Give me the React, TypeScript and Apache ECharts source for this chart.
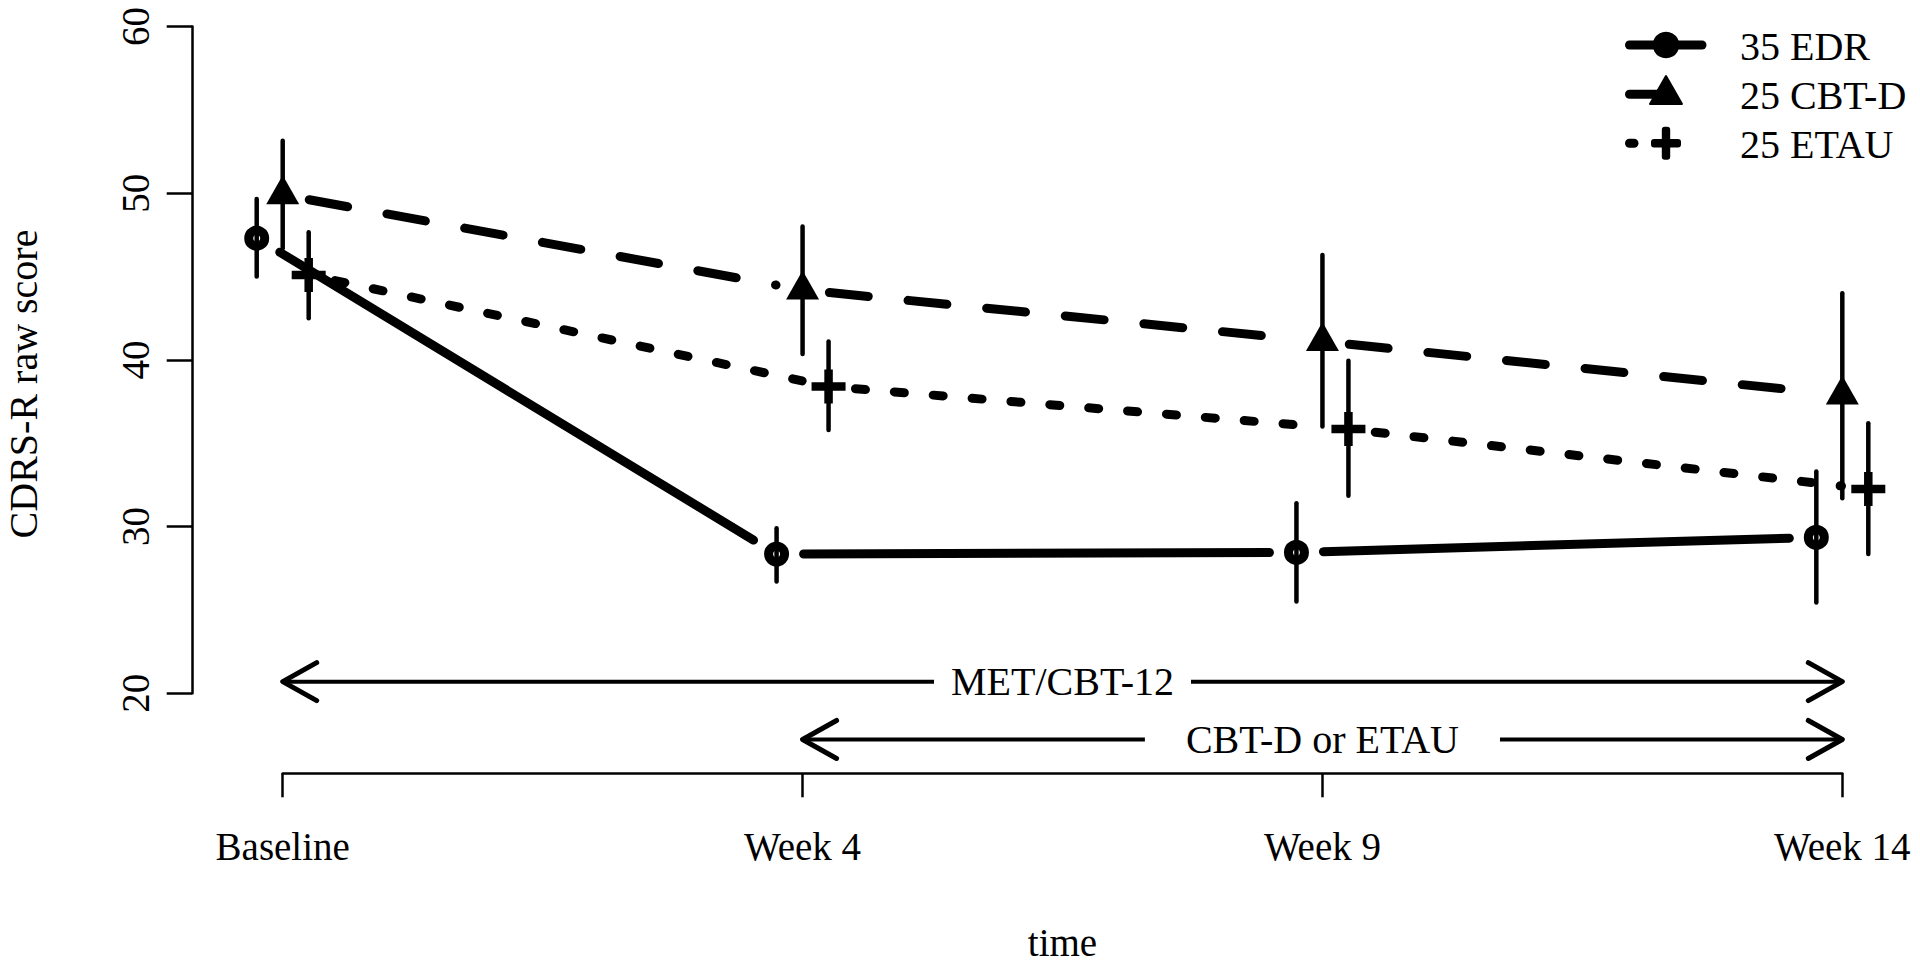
import React, { useEffect, useRef } from 'react';
import * as echarts from 'echarts';

// ---------- data ----------
const categories = ['Baseline', 'Week 4', 'Week 9', 'Week 14'];
const groupNames = ['35 EDR', '25 CBT-D', '25 ETAU'];

const edrMean = [47.3, 28.35, 28.45, 29.35];
const edrLow = [45.0, 26.7, 25.5, 25.45];
const edrHigh = [49.65, 29.9, 31.4, 33.3];

const cbtMean = [49.9, 44.2, 41.1, 37.9];
const cbtLow = [46.7, 40.35, 36.0, 31.7];
const cbtHigh = [53.15, 48.0, 46.3, 44.0];

const etauMean = [45.1, 38.4, 35.85, 32.25];
const etauLow = [42.5, 35.8, 31.85, 28.35];
const etauHigh = [47.65, 41.1, 39.95, 36.2];

const yTicks = [20, 30, 40, 50, 60];

const phaseLabels = ['MET/CBT-12', 'CBT-D or ETAU'];
const phaseStart = [0, 1];
const phaseEnd = [3, 3];
const phaseLevel = [20.7, 17.23];

const yTitle = 'CDRS-R raw score';
const xTitle = 'time';

// ---------- layout / style ----------
const FONT = '"Liberation Serif", "Times New Roman", Times, serif';
const W = 1920;
const H = 968;
const X0 = 282.7; // pixel of first category
const XSTEP = 519.87; // pixels per category
const LEFT = 192.3; // y axis line
const TOP = 26.5; // y = 60
const BOTTOM = 693.3; // y = 20
const AXIS_Y = 773.3; // x axis line
const xMin = (LEFT - X0) / XSTEP;
const xMax = (W - X0) / XSTEP;
const GAP = 27;
const LW = 9;
const phasePad = [17, 41];

const styles = [
  {
    dodge: -0.05,
    dash: null as any,
    symbol: 'circle',
    symbolSize: 16,
    symbolOffset: [0, 0],
    itemStyle: { color: 'rgba(0,0,0,0)', borderColor: '#000', borderWidth: 9, opacity: 1 },
  },
  {
    dodge: 0,
    dash: [39, 40],
    symbol: 'triangle',
    symbolSize: [33, 29],
    symbolOffset: [0, -5],
    itemStyle: { color: '#000', opacity: 1 },
  },
  {
    dodge: 0.05,
    dash: [10, 29],
    symbol: 'path://M3.75,0H6.25V3.75H10V6.25H6.25V10H3.75V6.25H0V3.75H3.75Z',
    symbolSize: 34,
    symbolOffset: [0, 0],
    itemStyle: { color: '#000', opacity: 1 },
  },
];

const groups = [
  { mean: edrMean, low: edrLow, high: edrHigh },
  { mean: cbtMean, low: cbtLow, high: cbtHigh },
  { mean: etauMean, low: etauLow, high: etauHigh },
];

function buildOption() {
  const series: any[] = [];

  groups.forEach((g, gi) => {
    const st = styles[gi];
    // connecting lines (type "b": gaps around points)
    series.push({
      type: 'custom',
      name: groupNames[gi] + ' line',
      xAxisIndex: 0,
      yAxisIndex: 0,
      clip: false,
      z: 2,
      silent: true,
      data: g.mean.slice(0, -1).map((m, i) => [i + st.dodge, m, i + 1 + st.dodge, g.mean[i + 1]]),
      renderItem: (params: any, api: any) => {
        const p0 = api.coord([api.value(0), api.value(1)]);
        const p1 = api.coord([api.value(2), api.value(3)]);
        const dx = p1[0] - p0[0];
        const dy = p1[1] - p0[1];
        const len = Math.hypot(dx, dy);
        const ux = dx / len;
        const uy = dy / len;
        return {
          type: 'line',
          shape: {
            x1: p0[0] + ux * GAP,
            y1: p0[1] + uy * GAP,
            x2: p1[0] - ux * GAP,
            y2: p1[1] - uy * GAP,
          },
          style: { stroke: '#000', lineWidth: LW, lineDash: st.dash, lineCap: 'round', fill: null },
        };
      },
    });
    // markers
    series.push({
      type: 'scatter',
      name: groupNames[gi],
      xAxisIndex: 0,
      yAxisIndex: 0,
      clip: false,
      z: 3,
      silent: true,
      symbol: st.symbol,
      symbolSize: st.symbolSize,
      symbolOffset: st.symbolOffset,
      itemStyle: st.itemStyle,
      emphasis: { disabled: true },
      data: g.mean.map((m, i) => [i + st.dodge, m]),
    });
    // error bars
    series.push({
      type: 'custom',
      name: groupNames[gi] + ' ci',
      xAxisIndex: 0,
      yAxisIndex: 0,
      clip: false,
      z: 4,
      silent: true,
      data: g.mean.map((m, i) => [i + st.dodge, g.low[i], g.high[i]]),
      renderItem: (params: any, api: any) => {
        const lo = api.coord([api.value(0), api.value(1)]);
        const hi = api.coord([api.value(0), api.value(2)]);
        return {
          type: 'line',
          shape: { x1: lo[0], y1: lo[1], x2: hi[0], y2: hi[1] },
          style: { stroke: '#000', lineWidth: 4.5, lineCap: 'round', fill: null },
        };
      },
    });
  });

  // treatment phase arrows
  series.push({
    type: 'custom',
    name: 'phases',
    xAxisIndex: 0,
    yAxisIndex: 0,
    clip: false,
    z: 5,
    silent: true,
    data: phaseLabels.map((l, i) => [phaseStart[i], phaseEnd[i], phaseLevel[i]]),
    renderItem: (params: any, api: any) => {
      const idx = params.dataIndex;
      const p0 = api.coord([api.value(0), api.value(2)]);
      const p1 = api.coord([api.value(1), api.value(2)]);
      const hx = 34;
      const hy = 19;
      return {
        type: 'group',
        children: [
          {
            type: 'line',
            shape: { x1: p0[0] + 2, y1: p0[1], x2: p1[0] - 2, y2: p1[1] },
            style: { stroke: '#000', lineWidth: 4, fill: null },
          },
          {
            type: 'polyline',
            shape: { points: [[p0[0] + hx, p0[1] - hy], [p0[0], p0[1]], [p0[0] + hx, p0[1] + hy]] },
            style: { stroke: '#000', lineWidth: 5, lineCap: 'round', lineJoin: 'round', fill: null },
          },
          {
            type: 'polyline',
            shape: { points: [[p1[0] - hx, p1[1] - hy], [p1[0], p1[1]], [p1[0] - hx, p1[1] + hy]] },
            style: { stroke: '#000', lineWidth: 5, lineCap: 'round', lineJoin: 'round', fill: null },
          },
          {
            type: 'text',
            x: (p0[0] + p1[0]) / 2,
            y: p0[1],
            style: {
              text: phaseLabels[idx],
              fill: '#000',
              font: '40px ' + FONT,
              align: 'center',
              verticalAlign: 'middle',
              textAlign: 'center',
              textVerticalAlign: 'middle',
              backgroundColor: '#fff',
              padding: [2, phasePad[idx]],
            },
          },
        ],
      };
    },
  });

  // legend drawn like R's legend()
  const LX = 1629.5;
  const legendRows = [45, 94.3, 143.3];
  const legendChildren: any[] = [
    {
      type: 'line',
      shape: { x1: LX, y1: legendRows[0], x2: 1702, y2: legendRows[0] },
      style: { stroke: '#000', lineWidth: LW, lineCap: 'round' },
    },
    { type: 'circle', shape: { cx: 1666, cy: legendRows[0], r: 13.3 }, style: { fill: '#000' } },
    {
      type: 'line',
      shape: { x1: LX, y1: legendRows[1], x2: 1660, y2: legendRows[1] },
      style: { stroke: '#000', lineWidth: LW, lineCap: 'round' },
    },
    {
      type: 'polygon',
      shape: { points: [[1666, 76], [1682, 104], [1650, 104]] },
      style: { fill: '#000', stroke: '#000', lineWidth: 2, lineJoin: 'round' },
    },
    {
      type: 'line',
      shape: { x1: LX, y1: legendRows[2], x2: 1634, y2: legendRows[2] },
      style: { stroke: '#000', lineWidth: LW, lineCap: 'round' },
    },
    { type: 'rect', shape: { x: 1651, y: legendRows[2] - 4.2, width: 30, height: 8.4, r: 3 }, style: { fill: '#000' } },
    { type: 'rect', shape: { x: 1661.8, y: 126.8, width: 8.4, height: 33, r: 3 }, style: { fill: '#000' } },
  ];
  groupNames.forEach((n, i) => {
    legendChildren.push({
      type: 'text',
      x: 1740,
      y: legendRows[i] + 1,
      style: {
        text: n,
        fill: '#000',
        font: '40px ' + FONT,
        align: 'left',
        verticalAlign: 'middle',
        textAlign: 'left',
        textVerticalAlign: 'middle',
      },
    });
  });

  return {
    animation: false,
    backgroundColor: '#ffffff',
    grid: [
      { left: LEFT, top: TOP, right: 0, height: BOTTOM - TOP },
      { left: X0, top: 700, width: 3 * XSTEP, height: AXIS_Y - 700 },
    ],
    xAxis: [
      { gridIndex: 0, type: 'value', min: xMin, max: xMax, show: false },
      {
        gridIndex: 1,
        type: 'value',
        min: 0,
        max: categories.length - 1,
        interval: 1,
        axisLine: { show: true, onZero: false, lineStyle: { color: '#000', width: 2.5 } },
        axisTick: { show: true, length: 24, lineStyle: { color: '#000', width: 2.5 } },
        axisLabel: {
          formatter: (v: number) => categories[Math.round(v)] ?? '',
          fontSize: 39,
          fontFamily: FONT,
          color: '#000',
          margin: 54,
          showMinLabel: true,
          showMaxLabel: true,
        },
        splitLine: { show: false },
        name: xTitle,
        nameLocation: 'middle',
        nameGap: 150,
        nameTextStyle: { fontSize: 39, fontFamily: FONT, color: '#000' },
      },
    ],
    yAxis: [
      {
        gridIndex: 0,
        type: 'value',
        min: yTicks[0],
        max: yTicks[yTicks.length - 1],
        interval: yTicks[1] - yTicks[0],
        axisLine: { show: true, onZero: false, lineStyle: { color: '#000', width: 2.5 } },
        axisTick: { show: true, length: 25.6, lineStyle: { color: '#000', width: 2.5 } },
        axisLabel: { rotate: 90, fontSize: 39, fontFamily: FONT, color: '#000', margin: 37 },
        splitLine: { show: false },
      },
      { gridIndex: 1, type: 'value', min: 0, max: 1, show: false },
    ],
    graphic: [
      {
        type: 'text',
        x: 23,
        y: 384,
        rotation: Math.PI / 2,
        style: {
          text: yTitle,
          fill: '#000',
          font: '40px ' + FONT,
          align: 'center',
          verticalAlign: 'middle',
          textAlign: 'center',
          textVerticalAlign: 'middle',
        },
      },
      { type: 'group', children: legendChildren },
    ],
    series,
  };
}

export default function App() {
  const ref = useRef<HTMLDivElement>(null);
  useEffect(() => {
    if (!ref.current) return;
    const chart = echarts.init(ref.current, null, { renderer: 'svg' });
    chart.setOption(buildOption() as any);
    return () => chart.dispose();
  }, []);
  return (
    <div
      ref={ref}
      style={{ position: 'absolute', left: 0, top: 0, width: W, height: H, background: '#fff' }}
    />
  );
}
